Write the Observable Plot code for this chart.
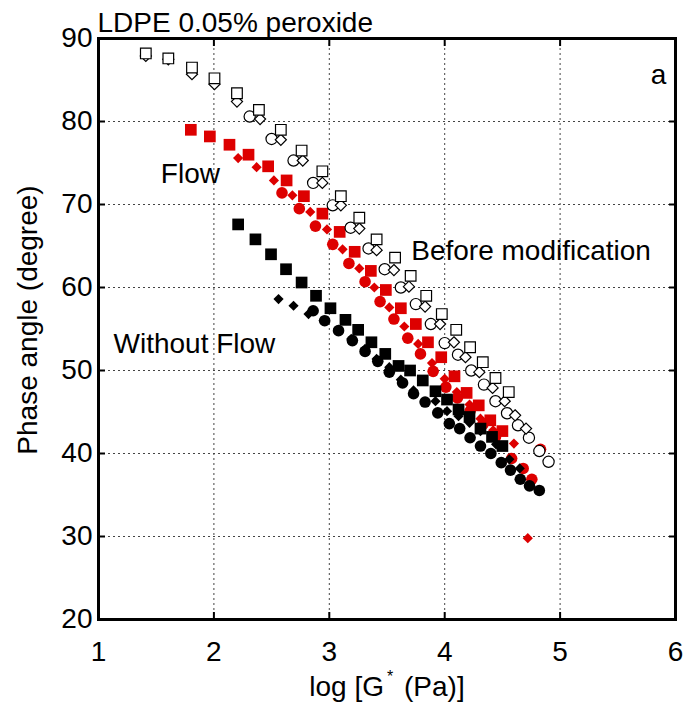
<!DOCTYPE html>
<html><head><meta charset="utf-8">
<script src="https://cdn.jsdelivr.net/npm/d3@7"></script>
<script src="https://cdn.jsdelivr.net/npm/@observablehq/plot@0.6"></script>
<style>
body{margin:0;background:#fff;}
svg{font-family:"Liberation Sans",Arial,Helvetica,sans-serif;}
</style>
</head><body><div id="chart"></div>
<script>
// ---- data (log G*, phase angle) ----
const title = "LDPE 0.05% peroxide";
const xLabel = "log [G* (Pa)]";
const yLabel = "Phase angle (degree)";
const xTicks = [1,2,3,4,5,6];
const yTicks = [20,30,40,50,60,70,80,90];
const xGrid = [2,3,4,5];
const yGrid = [30,40,50,60,70,80];

// Before modification (open markers)
const openSquares = [[1.41,88.2],[1.605,87.6],[1.81,86.5],[2.005,85.2],[2.20,83.4],[2.39,81.4],[2.58,79.0],[2.76,76.5],[2.94,74.0],[3.10,71.0],[3.26,68.4],[3.41,65.8],[3.57,63.6],[3.705,61.4],[3.84,59.0],[3.975,56.8],[4.10,54.9],[4.22,52.8],[4.33,51.0],[4.44,49.1],[4.555,47.4]];
const openDiamonds = [[1.41,87.9],[1.605,87.5],[1.81,85.7],[2.005,84.5],[2.20,82.4],[2.40,80.3],[2.58,77.8],[2.77,75.3],[2.94,72.6],[3.10,69.9],[3.26,67.1],[3.41,64.5],[3.56,62.1],[3.69,60.1],[3.83,57.7],[3.96,55.6],[4.08,53.4],[4.18,51.6],[4.30,49.8],[4.415,47.9],[4.52,46.3],[4.61,44.6],[4.705,43.0]];
const openCircles = [[2.31,80.6],[2.50,77.9],[2.69,75.3],[2.86,72.6],[3.03,69.9],[3.185,67.2],[3.34,64.7],[3.48,62.2],[3.62,60.0],[3.75,58.0],[3.88,55.6],[4.00,53.3],[4.115,51.9],[4.23,50.0],[4.34,48.3],[4.44,46.3],[4.54,44.85],[4.635,43.4],[4.73,41.9],[4.82,40.3],[4.90,39.0]];

// Flow (red)
const redSquares = [[1.80,79.0],[1.965,78.2],[2.135,77.2],[2.30,76.0],[2.47,74.6],[2.63,72.9],[2.78,71.0],[2.94,68.9],[3.09,66.7],[3.22,64.3],[3.36,62.0],[3.49,59.7],[3.62,57.5],[3.75,55.6],[3.855,53.4],[3.97,51.6],[4.085,49.3],[4.19,47.3],[4.295,45.8],[4.395,44.0],[4.50,42.7]];
const redDiamonds = [[2.21,75.6],[2.37,74.5],[2.52,72.9],[2.68,71.1],[2.835,69.1],[2.98,67.0],[3.115,64.6],[3.26,62.3],[3.39,60.0],[3.52,57.6],[3.65,55.3],[3.77,53.2],[3.89,50.9],[4.00,49.0],[4.105,47.4],[4.215,45.9],[4.31,44.2],[4.42,42.8],[4.60,41.2],[4.72,29.8]];
const redCircles = [[2.59,71.4],[2.74,69.5],[2.88,67.4],[3.03,65.2],[3.17,62.9],[3.31,60.7],[3.44,58.3],[3.56,56.2],[3.68,53.9],[3.79,52.0],[3.90,49.9],[4.01,48.0],[4.11,46.7],[4.22,45.1],[4.33,43.5],[4.44,42.0],[4.58,39.4],[4.68,38.2],[4.755,36.9],[4.83,40.5]];

// Without flow (black)
const blackSquares = [[2.21,67.6],[2.36,65.8],[2.495,64.0],[2.625,62.2],[2.76,60.6],[2.885,59.0],[3.01,57.5],[3.14,56.1],[3.25,54.9],[3.365,53.4],[3.485,52.0],[3.60,50.55],[3.70,50.0],[3.81,48.8],[3.92,47.5],[4.02,46.5],[4.12,45.3],[4.215,44.4],[4.31,43.0],[4.41,42.0],[4.50,40.9]];
const blackDiamonds = [[2.56,58.6],[2.69,57.8],[2.82,56.8],[2.95,56.0],[3.08,54.9],[3.19,53.8],[3.31,52.6],[3.41,51.4],[3.52,50.4],[3.62,48.9],[3.73,47.6],[3.92,46.3],[4.02,45.1],[4.12,44.5],[4.215,43.7],[4.31,42.7],[4.445,41.1],[4.56,39.3],[4.65,38.2]];
const blackCircles = [[2.86,57.2],[2.96,56.0],[3.08,54.8],[3.20,53.6],[3.31,52.3],[3.42,51.1],[3.52,49.8],[3.635,48.5],[3.73,47.2],[3.83,46.2],[3.94,44.9],[4.04,43.6],[4.13,43.0],[4.22,41.9],[4.31,40.9],[4.40,40.0],[4.49,38.9],[4.57,38.0],[4.655,36.9],[4.735,36.1],[4.82,35.55]];

// in-plot annotations
const annotations = [
  {x:1.54, y:73.7, text:"Flow"},
  {x:3.71, y:64.4, text:"Before modification"},
  {x:1.13, y:53.2, text:"Without Flow"}
];

const RED = "#dd0000";
const rows = a => a.map(([x,y]) => ({x,y}));
const FS = 28;

const plot = Plot.plot({
  width: 688, height: 717,
  marginLeft: 98, marginRight: 13, marginTop: 38, marginBottom: 98,
  style: {fontFamily: '"Liberation Sans", Arial, sans-serif', background: "#fff"},
  x: {domain: [1,6]},
  y: {domain: [20,90]},
  marks: [
    Plot.ruleX(xGrid, {stroke: "#444", strokeDasharray: "2,3", strokeWidth: 1}),
    Plot.ruleY(yGrid, {stroke: "#444", strokeDasharray: "2,3", strokeWidth: 1}),
    // inward ticks
    Plot.axisX(xGrid, {anchor: "bottom", tickSize: 7, dy: -7, tickFormat: () => "", label: null, strokeWidth: 2}),
    Plot.axisX(xGrid, {anchor: "top", tickSize: 7, dy: 7, tickFormat: () => "", label: null, strokeWidth: 2}),
    Plot.axisY(yGrid, {anchor: "left", tickSize: 7, dx: 7, tickFormat: () => "", label: null, strokeWidth: 2}),
    Plot.axisY(yGrid, {anchor: "right", tickSize: 7, dx: -7, tickFormat: () => "", label: null, strokeWidth: 2}),
    // tick labels
    Plot.axisX(xTicks, {anchor: "bottom", tickSize: 0, tickPadding: 22, fontSize: FS, label: null, fill: "#000", tickFormat: d3.format("d")}),
    Plot.axisY(yTicks, {anchor: "left", tickSize: 0, tickPadding: 6, fontSize: FS, label: null, fill: "#000", tickFormat: d3.format("d")}),
    // data: flow (red)
    Plot.dot(rows(redCircles), {x: "x", y: "y", symbol: "circle", r: 5.8, fill: RED}),
    Plot.dot(rows(redDiamonds), {x: "x", y: "y", symbol: "diamond2", r: 4.6, fill: RED}),
    Plot.dot(rows(redSquares), {x: "x", y: "y", symbol: "square", r: 6.6, fill: RED}),
    // data: without flow (black)
    Plot.dot(rows(blackSquares), {x: "x", y: "y", symbol: "square", r: 6.6, fill: "#000"}),
    Plot.dot(rows(blackDiamonds), {x: "x", y: "y", symbol: "diamond2", r: 4.6, fill: "#000"}),
    Plot.dot(rows(blackCircles), {x: "x", y: "y", symbol: "circle", r: 5.8, fill: "#000"}),
    // data: before modification (open)
    Plot.dot(rows(openCircles), {x: "x", y: "y", symbol: "circle", r: 5.6, fill: "#fff", stroke: "#000", strokeWidth: 1.2}),
    Plot.dot(rows(openDiamonds), {x: "x", y: "y", symbol: "diamond2", r: 5.0, fill: "#fff", stroke: "#000", strokeWidth: 1.2}),
    Plot.dot(rows(openSquares), {x: "x", y: "y", symbol: "square", r: 6.0, fill: "#fff", stroke: "#000", strokeWidth: 1.2}),
    Plot.frame({stroke: "#000", strokeWidth: 3}),
    // annotations
    Plot.text(annotations, {x: "x", y: "y", text: "text", textAnchor: "start", fontSize: FS, fill: "#000"}),
    Plot.text(["a"], {text: d => d, frameAnchor: "top-right", textAnchor: "middle", dx: -17, dy: 26, fontSize: FS, fill: "#000"}),
    Plot.text([title], {text: d => d, frameAnchor: "top-left", textAnchor: "start", lineAnchor: "bottom", dx: -1, dy: -7, fontSize: FS, fill: "#000"}),
    Plot.text([xLabel], {text: d => d, frameAnchor: "bottom", textAnchor: "middle", dy: 76, fontSize: FS, fill: "#000", className: "xlab"}),
    Plot.text([yLabel], {text: d => d, frameAnchor: "left", textAnchor: "middle", rotate: -90, dx: -70, dy: -9, fontSize: FS, fill: "#000"})
  ]
});
document.getElementById("chart").appendChild(plot);

// superscript star in x label
const xl = plot.querySelector(".xlab text");
if (xl) {
  const parts = xLabel.split("*");
  xl.textContent = "";
  const ns = "http://www.w3.org/2000/svg";
  const t1 = document.createElementNS(ns, "tspan"); t1.textContent = parts[0];
  const t2 = document.createElementNS(ns, "tspan"); t2.textContent = "*"; t2.setAttribute("dx", "3"); t2.setAttribute("dy", "-14"); t2.setAttribute("font-size", "16");
  const t3 = document.createElementNS(ns, "tspan"); t3.textContent = "\u00a0" + parts[1].trim(); t3.setAttribute("dx", "3"); t3.setAttribute("dy", "14");
  xl.append(t1, t2, t3);
}
</script>
</body></html>
